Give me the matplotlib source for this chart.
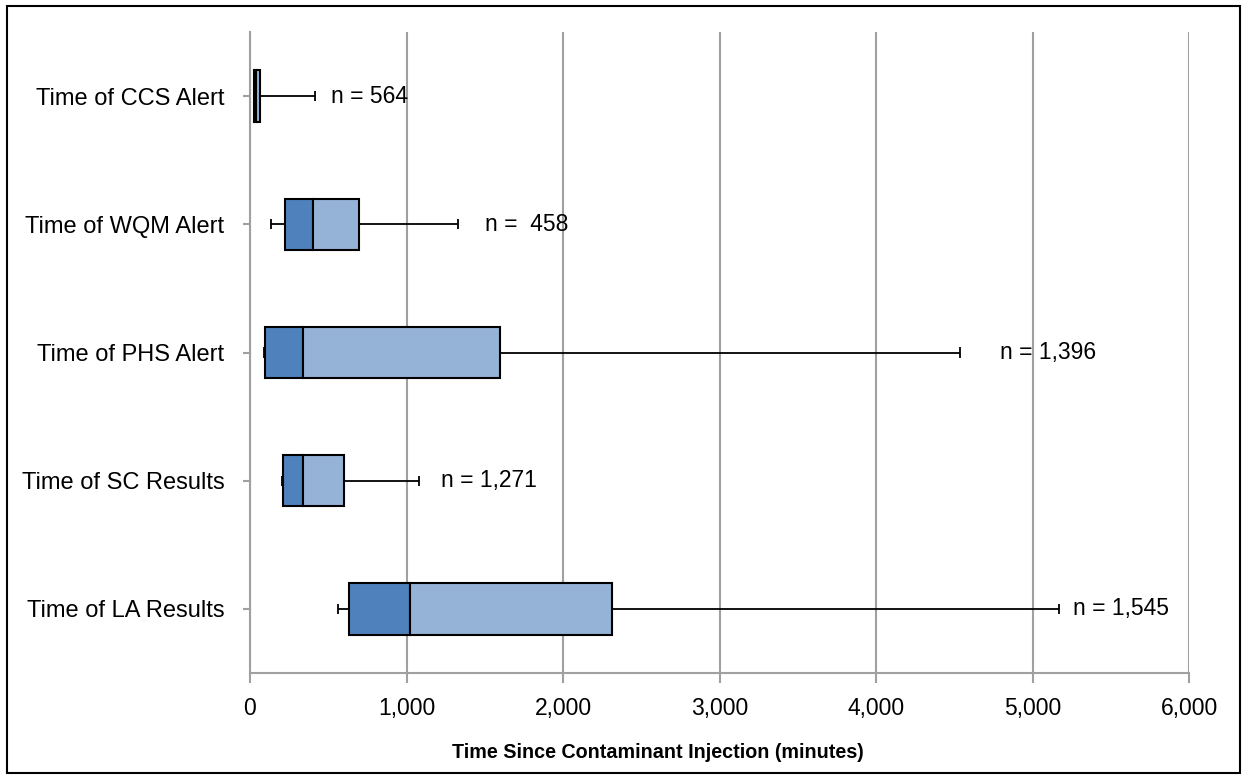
import matplotlib
matplotlib.use("Agg")
import matplotlib.pyplot as plt
from matplotlib.patches import Rectangle

plt.rcParams['font.family'] = ['Liberation Sans', 'DejaVu Sans']

categories = ["Time of CCS Alert", "Time of WQM Alert", "Time of PHS Alert",
              "Time of SC Results", "Time of LA Results"]
whisker_min = [24, 132, 90, 203, 564]
q1 = [24, 224, 94, 213, 635]
median = [40, 401, 341, 341, 1022]
q3 = [64, 696, 1599, 601, 2315]
whisker_max = [413, 1331, 4537, 1080, 5167]
n_labels = ["n = 564", "n =  458", "n = 1,396", "n = 1,271", "n = 1,545"]
label_x = [520, 1500, 4790, 1220, 5260]
x_ticks = [0, 1000, 2000, 3000, 4000, 5000, 6000]

dark = "#4F81BD"
light = "#95B3D7"
grid_c = "#A0A0A0"
fs = 16.5

fig = plt.figure(figsize=(12.47, 7.8), dpi=100)
ax = fig.add_axes([250/1247, 1-673/780, (1189-250)/1247, (673-32)/780])

ypos = list(range(len(categories)))
h = 0.4
cap = 0.04

for i, y in enumerate(ypos):
    ax.hlines(y, whisker_min[i], q1[i], color="black", lw=1.3, zorder=2)
    ax.hlines(y, q3[i], whisker_max[i], color="black", lw=1.3, zorder=2)
    ax.vlines([whisker_min[i], whisker_max[i]], y - cap, y + cap, color="black", lw=1.3, zorder=2)

ax.barh(ypos, [m - a for m, a in zip(median, q1)], left=q1, height=h,
        color=dark, edgecolor="black", linewidth=1.5, zorder=3)
ax.barh(ypos, [b - m for b, m in zip(q3, median)], left=median, height=h,
        color=light, edgecolor="black", linewidth=1.5, zorder=3)

for i, y in enumerate(ypos):
    ax.text(label_x[i], y, n_labels[i], ha="left", va="center", fontsize=fs, zorder=4)

ax.set_xlim(0, 6000)
ax.set_ylim(len(categories) - 0.5, -0.5)
ax.set_xticks(x_ticks)
ax.set_xticklabels([f"{v:,}" for v in x_ticks], fontsize=fs)
ax.set_yticks(ypos)
ax.set_yticklabels(categories, fontsize=17)
ax.tick_params(axis="x", direction="out", length=7, color=grid_c, width=1.5, pad=10)
ax.tick_params(axis="y", direction="out", length=5, color=grid_c, width=1.5, pad=13.5)

ax.grid(axis="x", color=grid_c, lw=1.5, zorder=0)
ax.set_axisbelow(True)
for s in ["top", "right"]:
    ax.spines[s].set_visible(False)
for s in ["left", "bottom"]:
    ax.spines[s].set_color(grid_c)
    ax.spines[s].set_linewidth(1.5)

ax.set_xlabel("Time Since Contaminant Injection (minutes)", fontsize=14.2,
              fontweight="bold", va="center")
ax.xaxis.set_label_coords((658 - 250) / 939, -(752 - 673) / 641)

fig.patches.append(Rectangle((7/1247, 1-773/780), (1240-7)/1247, (773-6)/780,
                             transform=fig.transFigure, fill=False,
                             edgecolor="black", lw=1.5))

fig.savefig("out.png", dpi=100)
